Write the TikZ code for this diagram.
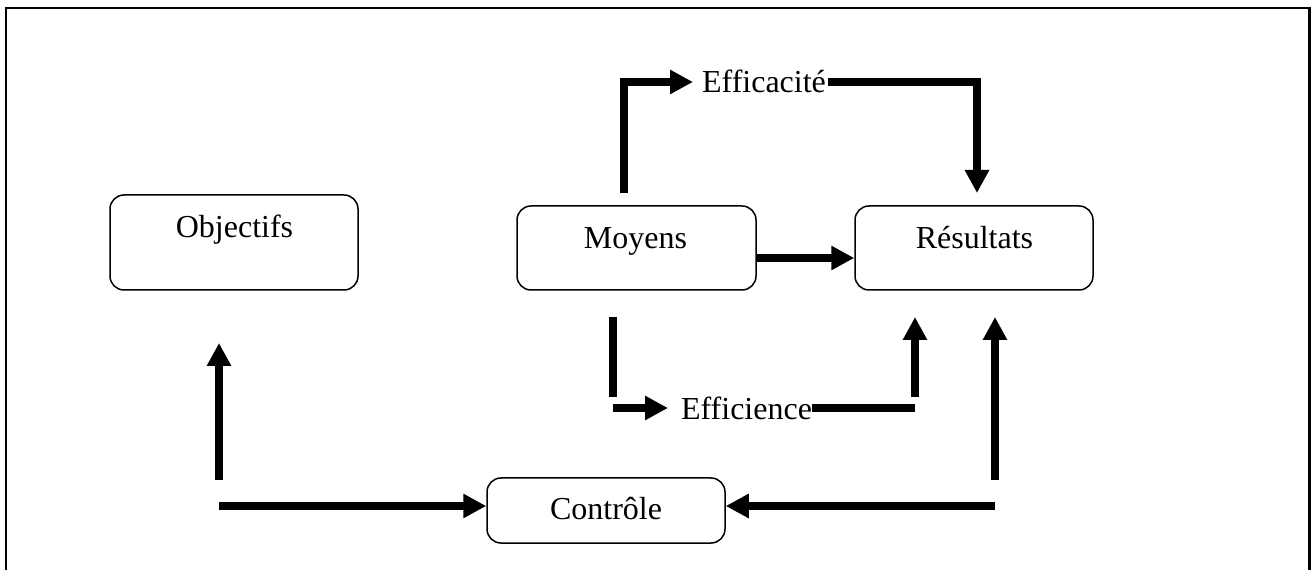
\documentclass[tikz,border=0pt]{standalone}
\usepackage{fontspec}
\setmainfont{Liberation Serif}
\usetikzlibrary{arrows.meta,calc}

\tikzset{
  box/.style={draw, line width=1.5pt, rounded corners=14pt, inner sep=0pt},
  lbl/.style={anchor=base, inner sep=0pt, font=\fontsize{32}{38}\selectfont},
  flow/.style={line width=8pt, -{Triangle[length=23pt,width=23pt]}},
  bar/.style={line width=8pt},
  frame/.style={line width=2.2pt}
}

\begin{document}
\begin{tikzpicture}[x=1pt,y=1pt]
  \useasboundingbox (0,0) rectangle (1311,570);

  % open frame (no bottom edge)
  \draw[frame] (6,0) -- (6,562) -- (1309.5,562) -- (1309.5,0);

  % boxes
  \node[box, minimum width=248pt, minimum height=95pt] (obj) at (234,327.5) {};
  \node[box, minimum width=239pt, minimum height=84pt] (moy) at (636.5,322) {};
  \node[box, minimum width=238pt, minimum height=84pt] (res) at (974,322) {};
  \node[box, minimum width=238pt, minimum height=65pt] (ctl) at (606,59.5) {};

  % box captions
  \node[lbl] (objT) at (234.5,332) {Objectifs};
  \node[lbl] (moyT) at (635.5,321) {Moyens};
  \node[lbl] (resT) at (974.5,321) {Résultats};
  \node[lbl] (ctlT) at (606,50) {Contrôle};

  % path labels
  \node[lbl] (effT) at (764,477) {Efficacité};
  \node[lbl] (ficT) at (746.5,150) {Efficience};

  % free ends of the connectors
  \coordinate (effStart) at (624,377);
  \coordinate (effIn)    at (693,488);
  \coordinate (effOut)   at (828,488);
  \coordinate (effEnd)   at (977,377);

  \coordinate (ficTop)   at (613,253);
  \coordinate (ficBot)   at (613,173);
  \coordinate (ficStart) at (613,162);
  \coordinate (ficIn)    at (668,162);
  \coordinate (ficOut)   at (812,162);
  \coordinate (ficCorner) at (915,162);
  \coordinate (ficUp)    at (915,173);
  \coordinate (ficEnd)   at (915,253);

  \coordinate (rBot)  at (995,90);
  \coordinate (rTop)  at (995,253);
  \coordinate (rIn)   at (995,64);
  \coordinate (lIn)   at (219,64);
  \coordinate (lBot)  at (219,90);
  \coordinate (lTop)  at (219,227);

  % Moyens -> Efficacité -> Résultats
  \draw[flow] (effStart) |- (effIn);
  \draw[flow] (effOut) -| (effEnd);

  % Moyens -> Résultats
  \draw[flow] (moy.east |- 0,312) -- (res.west |- 0,312);

  % Moyens -> Efficience -> Résultats
  \draw[bar] (ficTop) -- (ficBot);
  \draw[flow] (ficStart) -- (ficIn);
  \draw[bar] (ficOut) -- (ficCorner);
  \draw[flow] (ficUp) -- (ficEnd);

  % control loop
  \draw[flow] (rBot) -- (rTop);
  \draw[flow] (rIn) -- (ctl.east |- rIn);
  \draw[flow] (lIn) -- (ctl.west |- lIn);
  \draw[flow] (lBot) -- (lTop);
\end{tikzpicture}
\end{document}
